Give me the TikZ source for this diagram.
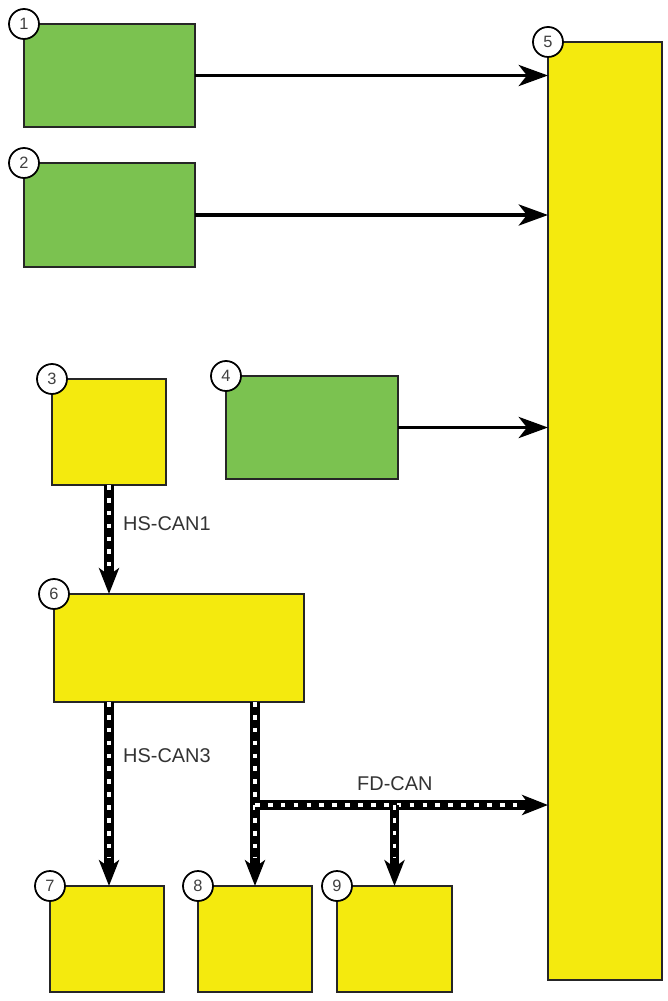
\documentclass[tikz,border=0pt]{standalone}
\usepackage{fontspec}
\setmainfont{Liberation Sans}
\usepackage{tikz}
\usetikzlibrary{positioning,calc,arrows.meta}
\usepackage{xcolor}
\definecolor{modgreen}{RGB}{123,194,80}
\definecolor{modyellow}{RGB}{244,234,14}

\begin{document}
\begin{tikzpicture}[
    x=0.03cm, y=-0.03cm,
    greenbox/.style={rectangle, draw=black!85, line width=1.7pt, fill=modgreen, inner sep=0pt, outer sep=0pt},
    yellowbox/.style={rectangle, draw=black!85, line width=1.7pt, fill=modyellow, inner sep=0pt, outer sep=0pt},
    numcircle/.style={circle, draw=black, line width=1.5pt, fill=white, minimum size=0.9cm, inner sep=0pt, text=black!75, font=\fontsize{14}{14}\selectfont},
    arrow/.style={-{Stealth[length=25pt, width=18pt, inset=7pt]}, line width=3.3pt},
    bus/.style={-{Stealth[length=22pt, width=17pt, inset=6pt]}, line width=8.5pt,
        postaction={draw=white, -, line width=2.6pt, dash pattern=on 4pt off 7pt, shorten >=24pt}},
    buslabel/.style={anchor=west, inner sep=0pt, text=black!80, font=\fontsize{17}{20}\selectfont}
]
\useasboundingbox (0,0) rectangle (667,1001);

% Modules
\node[greenbox, minimum width=5.13cm, minimum height=3.09cm] (ecu1) at (109.5,75.5) {};
\node[greenbox, minimum width=5.13cm, minimum height=3.12cm] (ecu2) at (109.5,215) {};
\node[yellowbox, minimum width=3.42cm, minimum height=3.18cm] (ecu3) at (109,432) {};
\node[greenbox, minimum width=5.16cm, minimum height=3.09cm] (ecu4) at (312,427.5) {};
\node[yellowbox, minimum width=3.42cm, minimum height=28.14cm] (ecu5) at (605,511) {};
\node[yellowbox, minimum width=7.5cm, minimum height=3.24cm] (ecu6) at (179,648) {};
\node[yellowbox, minimum width=3.42cm, minimum height=3.18cm] (ecu7) at (107,939) {};
\node[yellowbox, minimum width=3.42cm, minimum height=3.18cm] (ecu8) at (255,939) {};
\node[yellowbox, minimum width=3.45cm, minimum height=3.18cm] (ecu9) at (394.5,939) {};

% Direct wires
\draw[arrow] (ecu1.east) -- (ecu1.east -| ecu5.west);
\draw[arrow] (ecu2.east) -- (ecu2.east -| ecu5.west);
\draw[arrow] (ecu4.east) -- (ecu4.east -| ecu5.west);

% Bus lines
\coordinate (fdjoin) at (255,805);
\draw[bus] (ecu3.south) -- (ecu3.south |- ecu6.north);
\draw[bus] (ecu6.south -| 109,0) -- (ecu7.north -| 109,0);
\draw[bus] (ecu6.south -| ecu8.north) -- (ecu8.north);
\draw[bus] (fdjoin) -- (fdjoin -| ecu5.west);
\draw[bus] (fdjoin -| ecu9.north) -- (ecu9.north);

% Labels
\node[buslabel] (can1) at (123,524) {HS-CAN1};
\node[buslabel] (can3) at (123,756) {HS-CAN3};
\node[buslabel] (fdcan) at (357,784) {FD-CAN};

% Numbers
\node[numcircle] (n1) at (ecu1.north west) {1};
\node[numcircle] (n2) at (ecu2.north west) {2};
\node[numcircle] (n3) at (ecu3.north west) {3};
\node[numcircle] (n4) at (ecu4.north west) {4};
\node[numcircle] (n5) at (ecu5.north west) {5};
\node[numcircle] (n6) at (ecu6.north west) {6};
\node[numcircle] (n7) at (ecu7.north west) {7};
\node[numcircle] (n8) at (ecu8.north west) {8};
\node[numcircle] (n9) at (ecu9.north west) {9};

\end{tikzpicture}
\end{document}
